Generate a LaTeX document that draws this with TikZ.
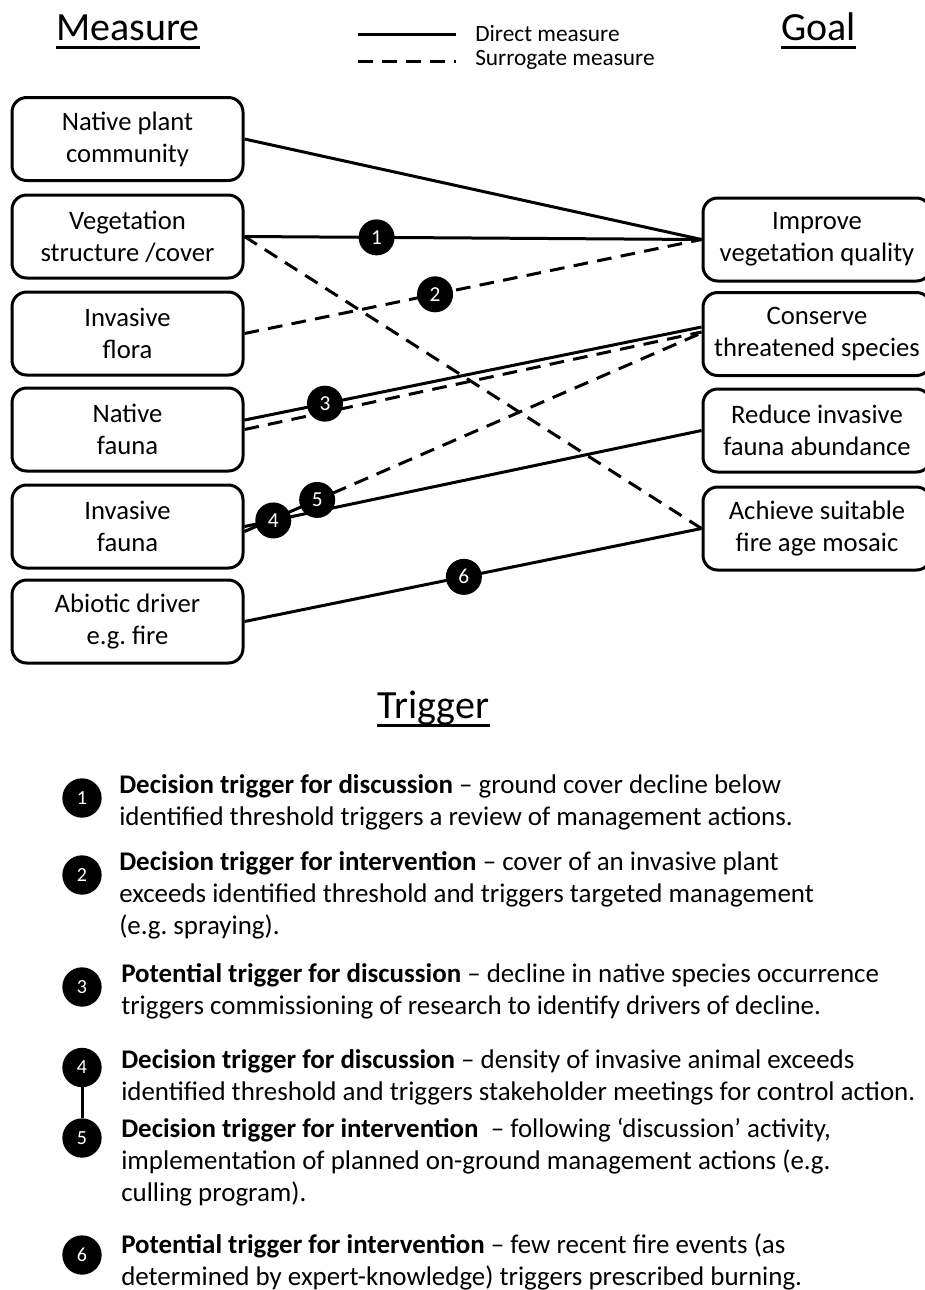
\documentclass[tikz,border=0pt]{standalone}
\usepackage{fontspec}
\setmainfont{Carlito}
\frenchspacing
\begin{document}
\begin{tikzpicture}[x=0.75pt,y=-0.75pt,
  box/.style={draw, line width=2.25pt, rounded corners=11pt, align=center,
    font=\fontsize{20}{24}\selectfont, inner sep=0pt},
  lbox/.style={box, minimum width=173.25pt, minimum height=62.25pt},
  rbox/.style={box, minimum width=171pt, minimum height=62.25pt},
  conn/.style={line width=2.25pt},
  surr/.style={line width=2.25pt, dash pattern=on 11pt off 7pt},
  uline/.style={line width=2.2pt},
  badge/.style={circle, fill=black, text=white, inner sep=0pt, minimum size=27pt,
    font=\fontsize{16}{16}\selectfont},
  bbadge/.style={badge, minimum size=29.5pt, font=\fontsize{15}{15}\selectfont},
  title/.style={font=\fontsize{30}{34}\selectfont, anchor=base, inner sep=0pt},
  legtext/.style={font=\fontsize{17.5}{20}\selectfont, anchor=west, inner sep=0pt},
  para/.style={anchor=base west, inner sep=0pt, text width=630pt, align=flush left,
    font=\fontsize{20.2}{24}\selectfont}
]
\useasboundingbox (0,0) rectangle (925,1290);

% titles
\node[title] (tmeas) at (128,40) {Measure};
\node[title] (tgoal) at (818.5,40) {Goal};
\node[title] (ttrig) at (433.5,718) {Trigger};
\draw[uline] ([yshift=-5.5pt]tmeas.base west) -- ([yshift=-5.5pt]tmeas.base east);
\draw[uline] ([yshift=-5.5pt]tgoal.base west) -- ([yshift=-5.5pt]tgoal.base east);
\draw[uline] ([yshift=-5.5pt]ttrig.base west) -- ([yshift=-5.5pt]ttrig.base east);

% legend
\coordinate (la1) at (358,34);
\coordinate (lb1) at (456,34);
\coordinate (la2) at (358,61);
\coordinate (lb2) at (456,61);
\draw[conn] (la1) -- (lb1);
\draw[surr] (la2) -- (lb2);
\node[legtext] (ldir) at (475,34) {Direct measure};
\node[legtext] (lsur) at (475,60) {Surrogate measure};

% measure boxes
\node[lbox] (np)  at (127.5,139)   {Native plant\\community};
\node[lbox] (vs)  at (127.5,236.5) {Vegetation\\structure /cover};
\node[lbox] (ifl) at (127.5,333.5) {Invasive\\flora};
\node[lbox] (nf)  at (127.5,429.5) {Native\\fauna};
\node[lbox] (ifa) at (127.5,526.5) {Invasive\\fauna};
\node[lbox] (ab)  at (127.5,621.5) {Abiotic driver\\e.g. fire};

% goal boxes
\node[rbox] (ivq) at (817,239.5) {Improve\\vegetation quality};
\node[rbox] (con) at (817,334)   {Conserve\\threatened species};
\node[rbox] (red) at (817,430.5) {Reduce invasive\\fauna abundance};
\node[rbox] (ach) at (817,528.5) {Achieve suitable\\fire age mosaic};

% connectors
\draw[conn] (np.east) -- (ivq.west);
\draw[conn] (vs.east) -- coordinate[pos=0.289] (p1) (ivq.west);
\draw[surr] (vs.east) -- (ach.west);
\draw[surr] (ifl.east) -- coordinate[pos=0.417] (p2) (ivq.west);
\draw[conn] ([yshift=7.1pt]nf.east) -- coordinate[pos=0.176] (p3) ([yshift=5.25pt]con.west);
\draw[surr] (nf.east) -- ([yshift=1.5pt]con.west);
\draw[surr] ([yshift=-3.75pt]ifa.east) -- coordinate[pos=0.159] (p5) ([yshift=0.75pt]con.west);
\draw[conn] (ifa.east) -- coordinate[pos=0.063] (p4) (red.west);
\draw[conn] (ab.east) -- coordinate[pos=0.48] (p6) (ach.west);

% badges on connectors
\node[badge] (b1) at (p1) {1};
\node[badge] (b2) at (p2) {2};
\node[badge] (b3) at (p3) {3};
\node[badge] (b4) at (p4) {4};
\node[badge] (b5) at (p5) {5};
\node[badge] (b6) at (p6) {6};

% trigger list
\node[bbadge] (t1) at (82,798)    {1};
\node[bbadge] (t2) at (82,875)    {2};
\node[bbadge] (t3) at (82,987)    {3};
\node[bbadge] (t4) at (82,1067.5) {4};
\node[bbadge] (t5) at (82,1138)   {5};
\node[bbadge] (t6) at (82,1255)   {6};
\draw[conn] (t4.south) -- (t5.north);

\node[para] (d1) at (119,793) {\textbf{Decision trigger for discussion} – ground cover decline below\\identified threshold triggers a review of management actions.};
\node[para] (d2) at (119,870) {\textbf{Decision trigger for intervention} – cover of an invasive plant\\exceeds identified threshold and triggers targeted management\\(e.g. spraying).};
\node[para] (d3) at (121,982) {\textbf{Potential trigger for discussion} – decline in native species occurrence\\triggers commissioning of research to identify drivers of decline.};
\node[para] (d4) at (121,1068) {\textbf{Decision trigger for discussion} – density of invasive animal exceeds\\identified threshold and triggers stakeholder meetings for control action.};
\node[para] (d5) at (121,1137) {\textbf{Decision trigger for intervention}\ \ – following ‘discussion’ activity,\\implementation of planned on-ground management actions (e.g.\\culling program).};
\node[para] (d6) at (121,1253) {\textbf{Potential trigger for intervention} – few recent fire events (as\\determined by expert-knowledge) triggers prescribed burning.};
\end{tikzpicture}
\end{document}
